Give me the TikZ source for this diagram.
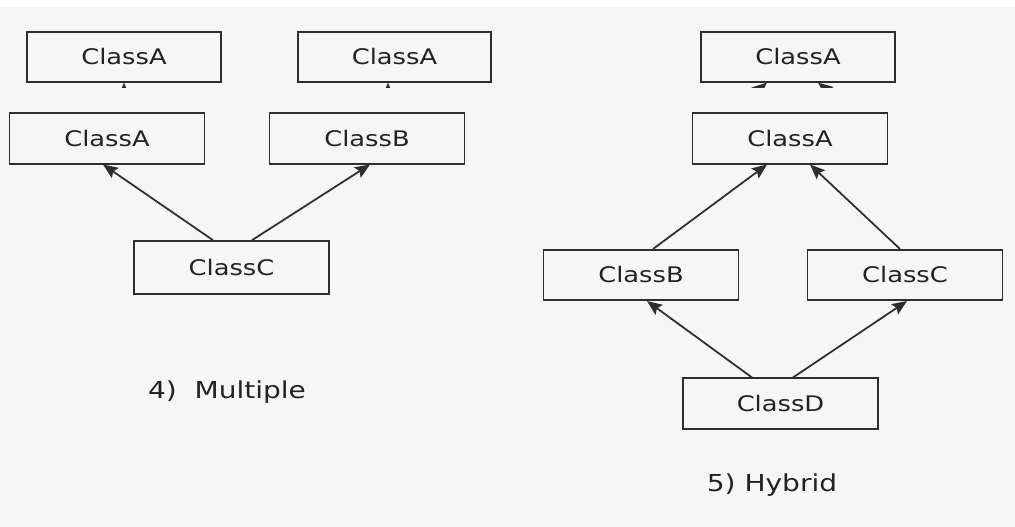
\documentclass[tikz,border=0pt]{standalone}
\usepackage{fontspec}
\newfontfamily\labfont[FakeStretch=1.2]{DejaVu Sans}
\usetikzlibrary{arrows.meta}
\definecolor{bgc}{HTML}{F6F6F6}
\definecolor{linec}{HTML}{2E2E2E}
\definecolor{txtc}{HTML}{222222}
\tikzset{
  cls/.style={draw=linec, line width=1.1pt, fill=bgc, minimum width=#1, minimum height=28.5pt, inner sep=0pt,
    font=\labfont\fontsize{12.2}{14}\selectfont, text=txtc},
  cls/.default=111pt,
  inh/.style={draw=linec, line width=1pt, -{Stealth[length=8.5pt,width=7pt,inset=1.5pt]}},
  captxt/.style={font=\labfont\fontsize{13.3}{15}\selectfont, text=txtc, inner sep=0pt}
}
\begin{document}
\begin{tikzpicture}[x=0.02cm,y=-0.02cm]
\useasboundingbox (0,0) rectangle (1015,527);
\fill[white] (0,0) rectangle (1015,527);
\fill[bgc] (0,7) rectangle (1015,527);
% top cut-off row
\node[cls=110pt, minimum height=28pt] (t1) at (124,57) {ClassA};
\node[cls=110pt, minimum height=28pt] (t2) at (394.5,57) {ClassA};
\node[cls=110pt, minimum height=28pt] (t3) at (798,57) {ClassA};
\begin{scope}
\clip (0,82) rectangle (1015,88);
\coordinate (s1) at (124,120);
\coordinate (s2) at (388,120);
\coordinate (s3) at (700,140);
\coordinate (s4) at (890,140);
\draw[inh] (s1) -- (t1.south -| s1);
\draw[inh] (s2) -- (t2.south -| s2);
\draw[inh] (s3) -- ([xshift=-31*0.02cm]t3.south);
\draw[inh] (s4) -- ([xshift=20*0.02cm]t3.south);
\end{scope}
% Multiple
\node[cls] (la) at (107,138.5) {ClassA};
\node[cls] (lb) at (367,138.5) {ClassB};
\node[cls, minimum height=30pt] (lc) at (231.5,267.5) {ClassC};
\draw[inh] ([xshift=-18.5*0.02cm]lc.north) -- ([xshift=-4*0.02cm]la.south);
\draw[inh] ([xshift=20.5*0.02cm]lc.north) -- ([xshift=3*0.02cm]lb.south);
\node[captxt] (m) at (227,392) {4)~~Multiple};
% Hybrid
\node[cls] (ra) at (790,138.5) {ClassA};
\node[cls] (rb) at (641,275) {ClassB};
\node[cls] (rc) at (905,275) {ClassC};
\node[cls] (rd) at (780.5,403.5) {ClassD};
\draw[inh] ([xshift=12*0.02cm]rb.north) -- ([xshift=-23*0.02cm]ra.south);
\draw[inh] ([xshift=-5*0.02cm]rc.north) -- ([xshift=20*0.02cm]ra.south);
\draw[inh] ([xshift=-28.5*0.02cm]rd.north) -- ([xshift=6*0.02cm]rb.south);
\draw[inh] ([xshift=12.5*0.02cm]rd.north) -- ([xshift=2*0.02cm]rc.south);
\node[captxt] (h) at (772,485) {5) Hybrid};
\end{tikzpicture}
\end{document}
